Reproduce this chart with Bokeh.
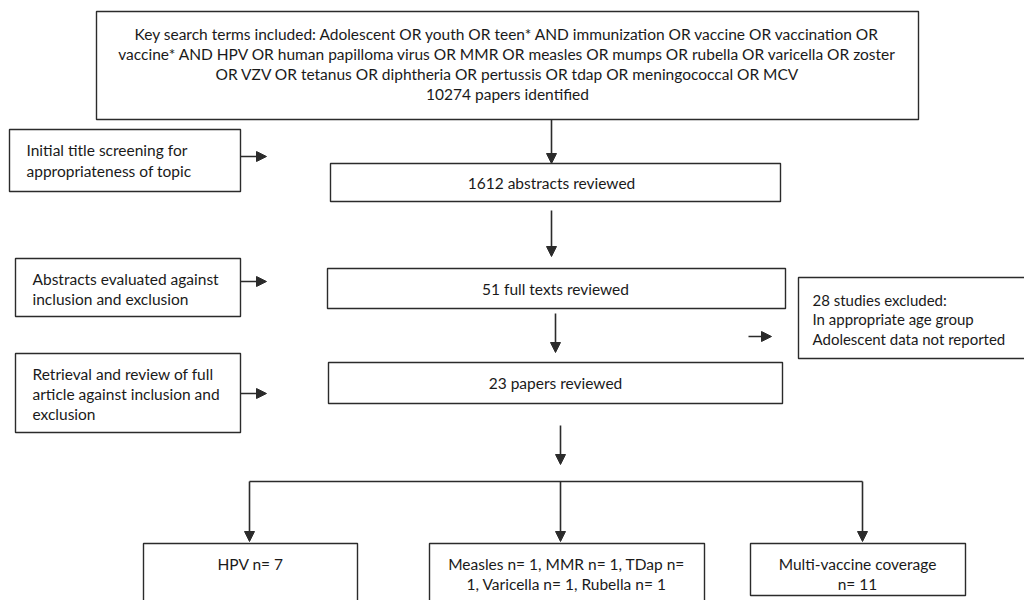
from bokeh.plotting import figure
from bokeh.models import Range1d, Arrow, NormalHead, ColumnDataSource
from bokeh.core.properties import value
from bokeh.embed import file_html
from bokeh.resources import INLINE

# ---------------- data ----------------
search_lines = [
    "Key search terms included: Adolescent OR youth OR teen* AND immunization OR vaccine OR vaccination OR",
    "vaccine* AND HPV OR human papilloma virus OR MMR OR measles OR mumps OR rubella OR varicella OR zoster",
    "OR VZV OR tetanus OR diphtheria OR pertussis OR tdap OR meningococcal OR MCV",
]
stage_counts = [10274, 1612, 51, 23]
stage_labels = ["papers identified", "abstracts reviewed", "full texts reviewed", "papers reviewed"]
screen_steps = [
    ["Initial title screening for", "appropriateness of topic"],
    ["Abstracts evaluated against", "inclusion and exclusion"],
    ["Retrieval and review of full", "article against inclusion and", "exclusion"],
]
excluded_count = 28
excluded_reasons = ["In appropriate age group", "Adolescent data not reported"]
single_groups = ["Measles", "MMR", "TDap", "Varicella", "Rubella"]
single_n = [1, 1, 1, 1, 1]
hpv_n = 7
multi_n = 11

# ---------------- layout (screen pixels) ----------------
W, H = 1024, 600
p = figure(width=W, height=H, output_backend="svg", toolbar_location=None,
           x_range=Range1d(0, W), y_range=Range1d(H, 0),
           min_border=0, outline_line_color=None)
p.axis.visible = False
p.grid.visible = False
p.background_fill_color = "white"
p.border_fill_color = "white"

FONT = value("Lato")
FS = "15.5px"
LC = "#2b2b2b"
TC = "#1a1a1a"

def box(l, r, t, b):
    p.quad(left=[l], right=[r], top=[t], bottom=[b], fill_color="white",
           line_color=LC, line_width=1.4)

def lines(x, ys, texts, align="center", fs=FS):
    src = ColumnDataSource(dict(x=[x] * len(ys), y=ys, t=texts))
    p.text(x="x", y="y", text="t", source=src, text_font=FONT, text_font_size=fs,
           text_color=TC, text_align=align, text_baseline="middle")

def arrow(x0, y0, x1, y1):
    p.add_layout(Arrow(end=NormalHead(size=10, fill_color=LC, line_color=LC, line_width=1),
                       x_start=x0, y_start=y0, x_end=x1, y_end=y1,
                       line_color=LC, line_width=1.6))

# top box
box(96, 918, 11, 119)
top_texts = search_lines + [f"{stage_counts[0]} {stage_labels[0]}"]
lines(507, [33, 53, 73, 93], top_texts)

# main stage boxes
stage_boxes = [(330, 780, 163, 201), (327, 785, 268, 308), (328, 782, 362, 403)]
stage_text_x = [551, 555, 555]
for i, (l, r, t, b) in enumerate(stage_boxes):
    box(l, r, t, b)
    lines(stage_text_x[i], [(t + b) / 2], [f"{stage_counts[i + 1]} {stage_labels[i + 1]}"])

# left screening boxes
left_boxes = [(9, 240, 129, 191), (15, 240, 258, 316), (15, 240, 353, 432)]
left_text_x = [26, 32, 32]
left_line_y = [[149, 170], [278, 298], [373, 393, 413]]
left_arrow_y = [156, 281, 393]
for i, (l, r, t, b) in enumerate(left_boxes):
    box(l, r, t, b)
    lines(left_text_x[i], left_line_y[i], screen_steps[i], align="left")
    arrow(r, left_arrow_y[i], 266, left_arrow_y[i])

# vertical arrows
arrow(551, 119, 551, 163)
arrow(551, 210, 551, 256)
arrow(555, 313, 555, 352)
arrow(560, 425, 560, 464)

# exclusion box
box(798, 1040, 277, 358)
lines(812, [299, 318, 338], [f"{excluded_count} studies excluded:"] + excluded_reasons,
      align="left", fs="15px")
arrow(748, 336, 771, 336)

# branch
p.line(x=[249, 862], y=[481, 481], line_color=LC, line_width=1.6)
for bx in [249, 560, 862]:
    arrow(bx, 481, bx, 541)

# bottom boxes
box(143, 357, 543, 640)
lines(250, [563], [f"HPV n= {hpv_n}"])

box(429, 704, 543, 640)
parts = [f"{g} n= {n}" for g, n in zip(single_groups, single_n)]
mid_line1 = ", ".join(parts[:2]) + ", " + parts[2].rsplit(" ", 1)[0]
mid_line2 = parts[2].rsplit(" ", 1)[1] + ", " + ", ".join(parts[3:])
lines(566, [563, 583], [mid_line1, mid_line2])

box(750, 965, 543, 595)
lines(857, [563, 583], ["Multi-vaccine coverage", f"n= {multi_n}"])

open("out.html", "w").write(file_html(p, INLINE))
